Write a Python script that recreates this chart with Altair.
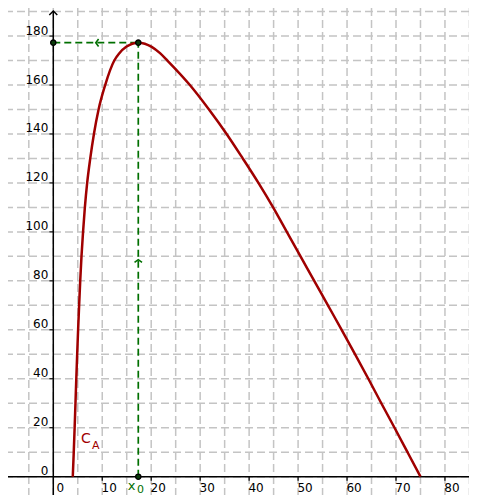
import altair as alt
import pandas as pd

# ---- data ----
curve_x = [3.98, 4.18, 4.36, 4.53, 4.7, 4.88, 5.07, 5.28, 5.5, 5.76, 6.08, 6.45, 6.92, 7.55,
           8.3, 9.25, 10.6, 12.46, 13.5, 14.9, 17.36, 20.1, 21.8, 23.3, 27.9, 31.8,
           35.4, 38.7, 41.9, 44.9, 47.7, 50.5, 53.3, 56.1, 58.9, 61.65, 64.35, 67.0,
           69.7, 72.35, 75.0]
curve_y = [0, 10, 20, 30, 40, 50, 60, 70, 80, 90, 100, 110, 120, 130,
           140, 150, 160, 170, 173, 175.6, 177.3, 175.6, 173, 170, 160, 150,
           140, 130, 120, 110, 100, 90, 80, 70, 60, 50, 40, 30,
           20, 10, 0]

x0 = 17.36
y0 = 177.3

x_ticks = [0, 10, 20, 30, 40, 50, 60, 70, 80]
y_ticks = [0, 20, 40, 60, 80, 100, 120, 140, 160, 180]
grid_x = [-5, 0, 5, 10, 15, 20, 25, 30, 35, 40, 45, 50, 55, 60, 65, 70, 75, 80, 85]
grid_y = [-10, 0, 10, 20, 30, 40, 50, 60, 70, 80, 90, 100, 110, 120, 130, 140, 150,
          160, 170, 180, 190]

# label anchors (data units)
ca_x, ca_y = 6.68, 15.3
ca_sub_x, ca_sub_y = 8.66, 12.66
x0_lab_y = -3.9
x0_sub_dx, x0_sub_y = 0.45, -5.6

W, H = 461, 487
xs = alt.Scale(domain=[-9.25, 84.91], nice=False, zero=False)
ys = alt.Scale(domain=[-7.48, 191.46], nice=False, zero=False)

RED = "#a00000"
GREEN = "#006f00"
GRID = "#c4c4c4"
FONT = "DejaVu Sans"


def X(f):
    return alt.X(f, type="quantitative", scale=xs, axis=None)


def Y(f):
    return alt.Y(f, type="quantitative", scale=ys, axis=None)


grid_v = alt.Chart(pd.DataFrame({"gx": grid_x})).mark_rule(
    color=GRID, strokeWidth=1.5, strokeDash=[8, 4]).encode(x=X("gx"))
grid_h = alt.Chart(pd.DataFrame({"gy": grid_y})).mark_rule(
    color=GRID, strokeWidth=1.5, strokeDash=[8, 4]).encode(y=Y("gy"))

axis_df = pd.DataFrame({"o": [0]})
x_axis = alt.Chart(axis_df).mark_rule(color="black", strokeWidth=1.5).encode(y=Y("o"))
y_axis = alt.Chart(axis_df).mark_rule(color="black", strokeWidth=1.5).encode(
    x=X("o"), y=alt.value(3), y2=alt.value(H))

y_arrow = alt.Chart(axis_df).mark_point(
    shape="M-1,1L0,0L1,1", size=64, filled=False, color="black", strokeWidth=1.5,
    opacity=1).encode(x=X("o"), y=alt.value(3))
x_arrow = alt.Chart(axis_df).mark_point(
    shape="M-1,-1L0,0L-1,1", size=64, filled=False, color="black", strokeWidth=1.5,
    opacity=1).encode(x=alt.value(W + 9), y=Y("o"))

xt_df = pd.DataFrame({"v": x_ticks, "lbl": [str(v) for v in x_ticks]})
yt_df = pd.DataFrame({"v": y_ticks, "lbl": [str(v) for v in y_ticks]})

x_tickmarks = alt.Chart(xt_df[xt_df.v != 0]).mark_rule(
    color="black", strokeWidth=1.2, y2Offset=4).encode(x=X("v"), y=Y("z"), y2=alt.Y2("z")
).transform_calculate(z="0")
y_tickmarks = alt.Chart(yt_df[yt_df.v != 0]).mark_rule(
    color="black", strokeWidth=1.2, x2Offset=-4).encode(y=Y("v"), x=X("z"), x2=alt.X2("z")
).transform_calculate(z="0")

x_labels = alt.Chart(xt_df).mark_text(
    dx=7, dy=11.5, align="center", baseline="middle", fontSize=12, font=FONT,
    color="black").encode(x=X("v"), y=Y("z"), text="lbl:N").transform_calculate(z="0")
y_labels = alt.Chart(yt_df).mark_text(
    dx=-5, dy=-5.5, align="right", baseline="middle", fontSize=12, font=FONT,
    color="black").encode(y=Y("v"), x=X("z"), text="lbl:N").transform_calculate(z="0")

curve_df = pd.DataFrame({"x": curve_x, "y": curve_y, "i": list(range(len(curve_x)))})
curve = alt.Chart(curve_df).mark_line(
    color=RED, strokeWidth=2.5, interpolate="monotone").encode(
    x=X("x"), y=Y("y"), order="i:Q")

pt_df = pd.DataFrame({"x0": [x0], "y0": [y0], "z": [0]})
v_dash = alt.Chart(pt_df).mark_rule(color=GREEN, strokeWidth=1.7, strokeDash=[7, 4]).encode(
    x=X("x0"), y=Y("z"), y2=alt.Y2("y0"))
h_dash = alt.Chart(pt_df).mark_rule(color=GREEN, strokeWidth=1.7, strokeDash=[7, 4]).encode(
    y=Y("y0"), x=X("z"), x2=alt.X2("x0"))

up_mark = alt.Chart(pt_df).mark_point(
    shape="M-1,0.75L0,0L1,0.75", size=56, filled=False, color=GREEN, strokeWidth=1.6,
    opacity=1).encode(x=X("x0"), y=Y("ym")).transform_calculate(ym="datum.y0 / 2")
left_mark = alt.Chart(pt_df).mark_point(
    shape="M0.75,-1L0,0L0.75,1", size=56, filled=False, color=GREEN, strokeWidth=1.6,
    opacity=1).encode(x=X("xm"), y=Y("y0")).transform_calculate(xm="datum.x0 / 2")

dots_df = pd.DataFrame({"x": [0, x0, x0], "y": [y0, y0, 0]})
dots = alt.Chart(dots_df).mark_point(
    shape="circle", size=28, filled=True, fill="#0b3a0b", stroke="black",
    strokeWidth=1.3, opacity=1).encode(x=X("x"), y=Y("y"))

txt_df = pd.DataFrame({
    "x": [ca_x, ca_sub_x, x0 - 1.36, x0 + x0_sub_dx],
    "y": [ca_y, ca_sub_y, x0_lab_y, x0_sub_y],
    "t": ["C", "A", "x", "0"],
    "c": ["r", "r", "g", "g"],
    "s": [14, 11, 13, 11],
})
texts = alt.Chart(txt_df).mark_text(
    align="center", baseline="middle", font=FONT).encode(
    x=X("x"), y=Y("y"), text="t:N",
    color=alt.Color("c:N", scale=alt.Scale(domain=["r", "g"], range=[RED, GREEN]), legend=None),
    size=alt.Size("s:Q", scale=None, legend=None))

chart = alt.layer(
    grid_v, grid_h, x_axis, y_axis, y_arrow, x_arrow, x_tickmarks, y_tickmarks,
    x_labels, y_labels, v_dash, h_dash, up_mark, left_mark, curve, dots, texts
).properties(
    width=W, height=H, padding=0, autosize=alt.AutoSizeParams(type="none")
).configure_view(strokeOpacity=0)

chart.save("out.html", embed_options={"renderer": "svg", "actions": False})
